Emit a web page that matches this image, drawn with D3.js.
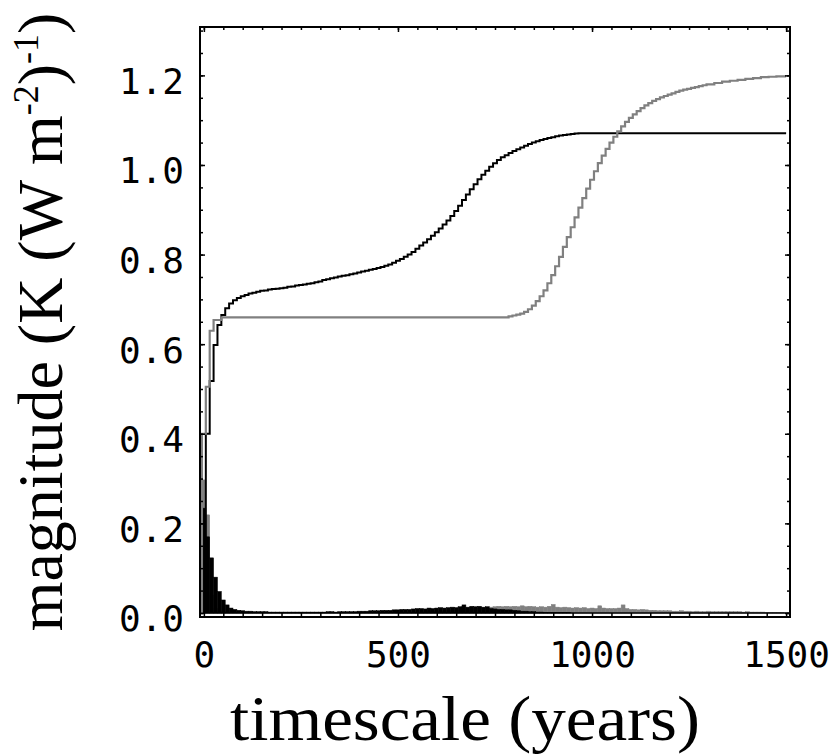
<!DOCTYPE html>
<meta charset="utf-8">
<style>
body { margin: 0; background: #fff; }
.tick text { font-family: "DejaVu Sans Mono", monospace; font-size: 36px; fill: #000; }
.tick line { stroke: #000; stroke-width: 1.5px; }
.title { font-family: "Liberation Serif", serif; font-size: 64px; fill: #000; }
</style>
<body>
<script src="https://cdn.jsdelivr.net/npm/d3@7/dist/d3.min.js"></script>
<script>

// histogram bins are 10 years wide, centred on 0, 10, ... 1500
var binCenters = d3.range(0, 1501, 10);

var blackHist = [
  0.234, 0.170, 0.123, 0.080, 0.048, 0.029, 0.018, 0.011, 0.008, 0.006,
  0.005, 0.004, 0.004, 0.003, 0.003, 0.003, 0.003, 0.002, 0.002, 0.002,
  0.002, 0.002, 0.002, 0.002, 0.002, 0.002, 0.002, 0.002, 0.002, 0.002,
  0.002, 0.002, 0.003, 0.003, 0.002, 0.003, 0.003, 0.003, 0.003, 0.003,
  0.004, 0.004, 0.004, 0.005, 0.005, 0.005, 0.006, 0.006, 0.006, 0.007,
  0.007, 0.008, 0.008, 0.008, 0.009, 0.010, 0.010, 0.009, 0.011, 0.010,
  0.011, 0.012, 0.011, 0.012, 0.013, 0.012, 0.014, 0.018, 0.013, 0.015,
  0.014, 0.015, 0.013, 0.014, 0.010, 0.009, 0.008, 0.008, 0.007, 0.007,
  0.006, 0.005, 0.004, 0.004, 0.003, 0.003, 0.002, 0.002, 0.001, 0.001,
  0.001, 0.001, 0.001, 0.001, 0.001, 0, 0, 0, 0, 0,
  0, 0, 0, 0, 0, 0, 0, 0, 0, 0,
  0, 0, 0, 0, 0, 0, 0, 0, 0, 0,
  0, 0, 0, 0, 0, 0, 0, 0, 0, 0,
  0, 0, 0, 0, 0, 0, 0, 0, 0, 0,
  0, 0, 0, 0, 0, 0, 0, 0, 0, 0,
  0
];

var grayHist = [
  0.297, 0.219, 0.040, 0.010, 0.004, 0.002, 0, 0, 0, 0,
  0, 0, 0, 0, 0, 0, 0, 0, 0, 0,
  0, 0, 0, 0, 0, 0, 0, 0, 0, 0,
  0, 0, 0, 0, 0, 0, 0, 0, 0, 0,
  0, 0, 0, 0, 0, 0, 0, 0, 0, 0,
  0.001, 0.001, 0.001, 0.001, 0.002, 0.002, 0.002, 0.002, 0.003, 0.003,
  0.003, 0.004, 0.004, 0.005, 0.005, 0.006, 0.007, 0.007, 0.008, 0.009,
  0.010, 0.010, 0.011, 0.012, 0.013, 0.014, 0.015, 0.014, 0.015, 0.014,
  0.015, 0.014, 0.016, 0.014, 0.015, 0.014, 0.013, 0.014, 0.013, 0.015,
  0.019, 0.013, 0.012, 0.013, 0.012, 0.011, 0.012, 0.011, 0.012, 0.010,
  0.011, 0.010, 0.016, 0.011, 0.010, 0.010, 0.010, 0.011, 0.018, 0.010,
  0.008, 0.008, 0.007, 0.008, 0.007, 0.006, 0.006, 0.005, 0.005, 0.005,
  0.005, 0.004, 0.004, 0.005, 0.004, 0.004, 0.003, 0.004, 0.003, 0.003,
  0.004, 0.003, 0.003, 0.003, 0.003, 0.003, 0.003, 0.003, 0.003, 0.002,
  0.003, 0.002, 0.002, 0.002, 0.002, 0.001, 0.001, 0.001, 0.001, 0.001,
  0
];

// cumulative curves: [year, value], drawn as steps
var blackCum = [
  [5, 0], [5, 0.400], [15, 0.518], [25, 0.598], [35, 0.643], [45, 0.665],
  [55, 0.680], [65, 0.691], [75, 0.698], [85, 0.703], [95, 0.707],
  [105, 0.710], [115, 0.713], [125, 0.715], [135, 0.717], [145, 0.719],
  [155, 0.720], [165, 0.722], [175, 0.723], [185, 0.724], [195, 0.725],
  [205, 0.726], [215, 0.728], [225, 0.729], [235, 0.731], [245, 0.732],
  [255, 0.733], [265, 0.735], [275, 0.736], [285, 0.738], [295, 0.740],
  [305, 0.743], [315, 0.745], [325, 0.747], [335, 0.749], [345, 0.751],
  [355, 0.753], [365, 0.754], [375, 0.756], [385, 0.758], [395, 0.760],
  [405, 0.762], [415, 0.764], [425, 0.766], [435, 0.768], [445, 0.770],
  [455, 0.772], [465, 0.775], [475, 0.778], [485, 0.782], [495, 0.786],
  [505, 0.790], [515, 0.795], [525, 0.800], [535, 0.806], [545, 0.813],
  [555, 0.820], [565, 0.827], [575, 0.834], [585, 0.842], [595, 0.850],
  [605, 0.858], [615, 0.867], [625, 0.876], [635, 0.886], [645, 0.897],
  [655, 0.909], [665, 0.922], [675, 0.934], [685, 0.946], [695, 0.957],
  [705, 0.968], [715, 0.978], [725, 0.987], [735, 0.996], [745, 1.004],
  [755, 1.011], [765, 1.017], [775, 1.022], [785, 1.027], [795, 1.031],
  [805, 1.035], [815, 1.039], [825, 1.043], [835, 1.047], [845, 1.050],
  [855, 1.053], [865, 1.056], [875, 1.058], [885, 1.060], [895, 1.062],
  [905, 1.064], [915, 1.066], [925, 1.067], [935, 1.068], [945, 1.069],
  [955, 1.070], [965, 1.071], [1500, 1.071]
];

var grayCum = [
  [-5, 0], [-5, 0.400], [5, 0.505], [15, 0.630], [25, 0.654], [45, 0.660],
  [785, 0.662], [795, 0.664], [805, 0.666], [815, 0.668], [825, 0.672],
  [835, 0.678], [845, 0.686], [855, 0.696], [865, 0.707], [875, 0.720],
  [885, 0.736], [895, 0.754], [905, 0.774], [915, 0.795], [925, 0.817],
  [935, 0.839], [945, 0.861], [955, 0.883], [965, 0.905], [975, 0.926],
  [985, 0.947], [995, 0.967], [1005, 0.986], [1015, 1.004], [1025, 1.021],
  [1035, 1.036], [1045, 1.050], [1055, 1.063], [1065, 1.075], [1075, 1.086],
  [1085, 1.096], [1095, 1.105], [1105, 1.113], [1115, 1.120], [1125, 1.127],
  [1135, 1.133], [1145, 1.138], [1155, 1.143], [1165, 1.147], [1175, 1.151],
  [1185, 1.154], [1195, 1.157], [1205, 1.160], [1215, 1.163], [1225, 1.166],
  [1235, 1.168], [1245, 1.170], [1255, 1.172], [1265, 1.174], [1275, 1.176],
  [1285, 1.178], [1295, 1.180], [1315, 1.183], [1335, 1.186], [1355, 1.188],
  [1375, 1.190], [1395, 1.192], [1415, 1.194], [1435, 1.196], [1455, 1.197],
  [1475, 1.198], [1500, 1.198]
];

var xMajor = [0, 500, 1000, 1500];
var yMajor = [0, 0.2, 0.4, 0.6, 0.8, 1.0, 1.2];

var width = 835,
    height = 755;

var svg = d3.select("body").append("svg")
    .attr("width", width)
    .attr("height", height);

var x = d3.scaleLinear().domain([-10, 1510]).range([200, 790]);
var y = d3.scaleLinear().domain([-0.009, 1.308]).range([617, 27]);

var xMinor = d3.range(0, 1501, 50);
var yMinor = d3.range(0, 1.301, 0.05);

// histograms, gray under black
function bars(data, color) {
  svg.append("g").selectAll("rect")
    .data(binCenters.map(function(c, i) { return [c, data[i]]; }).filter(function(d) { return d[1] > 0; }))
    .enter().append("rect")
    .attr("x", function(d) { return x(d[0] - 5); })
    .attr("width", function(d) { return x(d[0] + 5) - x(d[0] - 5); })
    .attr("y", function(d) { return y(d[1]); })
    .attr("height", function(d) { return y(0) - y(d[1]); })
    .attr("fill", color)
    .attr("stroke", color)
    .attr("stroke-width", 0.5);
}
bars(grayHist, "#808080");
bars(blackHist, "#000");

// zero line
svg.append("line")
    .attr("x1", x(-10)).attr("x2", x(1510))
    .attr("y1", y(0)).attr("y2", y(0))
    .attr("stroke", "#000").attr("stroke-width", 1.5);

var line = d3.line()
    .x(function(d) { return x(d[0]); })
    .y(function(d) { return y(d[1]); })
    .curve(d3.curveStepAfter);

svg.append("path").datum(blackCum)
    .attr("d", line).attr("fill", "none")
    .attr("stroke", "#000").attr("stroke-width", 2);
svg.append("path").datum(grayCum)
    .attr("d", line).attr("fill", "none")
    .attr("stroke", "#808080").attr("stroke-width", 2.2);

// ticks on all four sides, pointing in
function ticks(axis, tr) {
  var g = svg.append("g").attr("transform", tr).call(axis);
  g.select(".domain").remove();
  return g;
}
ticks(d3.axisBottom(x).tickValues(xMinor).tickSize(-4).tickFormat(""), "translate(0,617)");
ticks(d3.axisTop(x).tickValues(xMinor).tickSize(-3).tickFormat(""), "translate(0,27)");
ticks(d3.axisTop(x).tickValues(xMajor).tickSize(-5).tickFormat(""), "translate(0,27)");
ticks(d3.axisLeft(y).tickValues(yMinor).tickSize(-3).tickFormat(""), "translate(200,0)");
ticks(d3.axisLeft(y).tickValues(yMajor).tickSize(-5).tickFormat(""), "translate(200,0)");
ticks(d3.axisRight(y).tickValues(yMinor).tickSize(-3).tickFormat(""), "translate(790,0)");
ticks(d3.axisRight(y).tickValues(yMajor).tickSize(-5).tickFormat(""), "translate(790,0)");

// labels
ticks(d3.axisBottom(x).tickValues(xMajor).tickSize(0).tickPadding(24).tickFormat(d3.format("d")), "translate(0,617)");
ticks(d3.axisLeft(y).tickValues(yMajor).tickSize(0).tickPadding(16).tickFormat(d3.format(".1f")), "translate(200,0)")
  .selectAll("text").attr("dy", "0.5em");

// frame
svg.append("rect")
    .attr("x", 200).attr("y", 27)
    .attr("width", 590).attr("height", 590)
    .attr("fill", "none").attr("stroke", "#000").attr("stroke-width", 2);

svg.append("text")
    .attr("class", "title")
    .attr("x", 465).attr("y", 740)
    .attr("text-anchor", "middle")
    .attr("textLength", 470)
    .attr("lengthAdjust", "spacingAndGlyphs")
    .text("timescale (years)");

var yt = svg.append("text")
    .attr("class", "title")
    .attr("transform", "translate(62,322) rotate(-90)")
    .attr("text-anchor", "middle");
yt.append("tspan").text("magnitude (K (W m");
yt.append("tspan").attr("font-size", "36px").attr("dy", "-24").text("-2");
yt.append("tspan").attr("dy", "24").text(")");
yt.append("tspan").attr("font-size", "36px").attr("dy", "-24").text("-1");
yt.append("tspan").attr("dy", "24").text(")");

</script>
